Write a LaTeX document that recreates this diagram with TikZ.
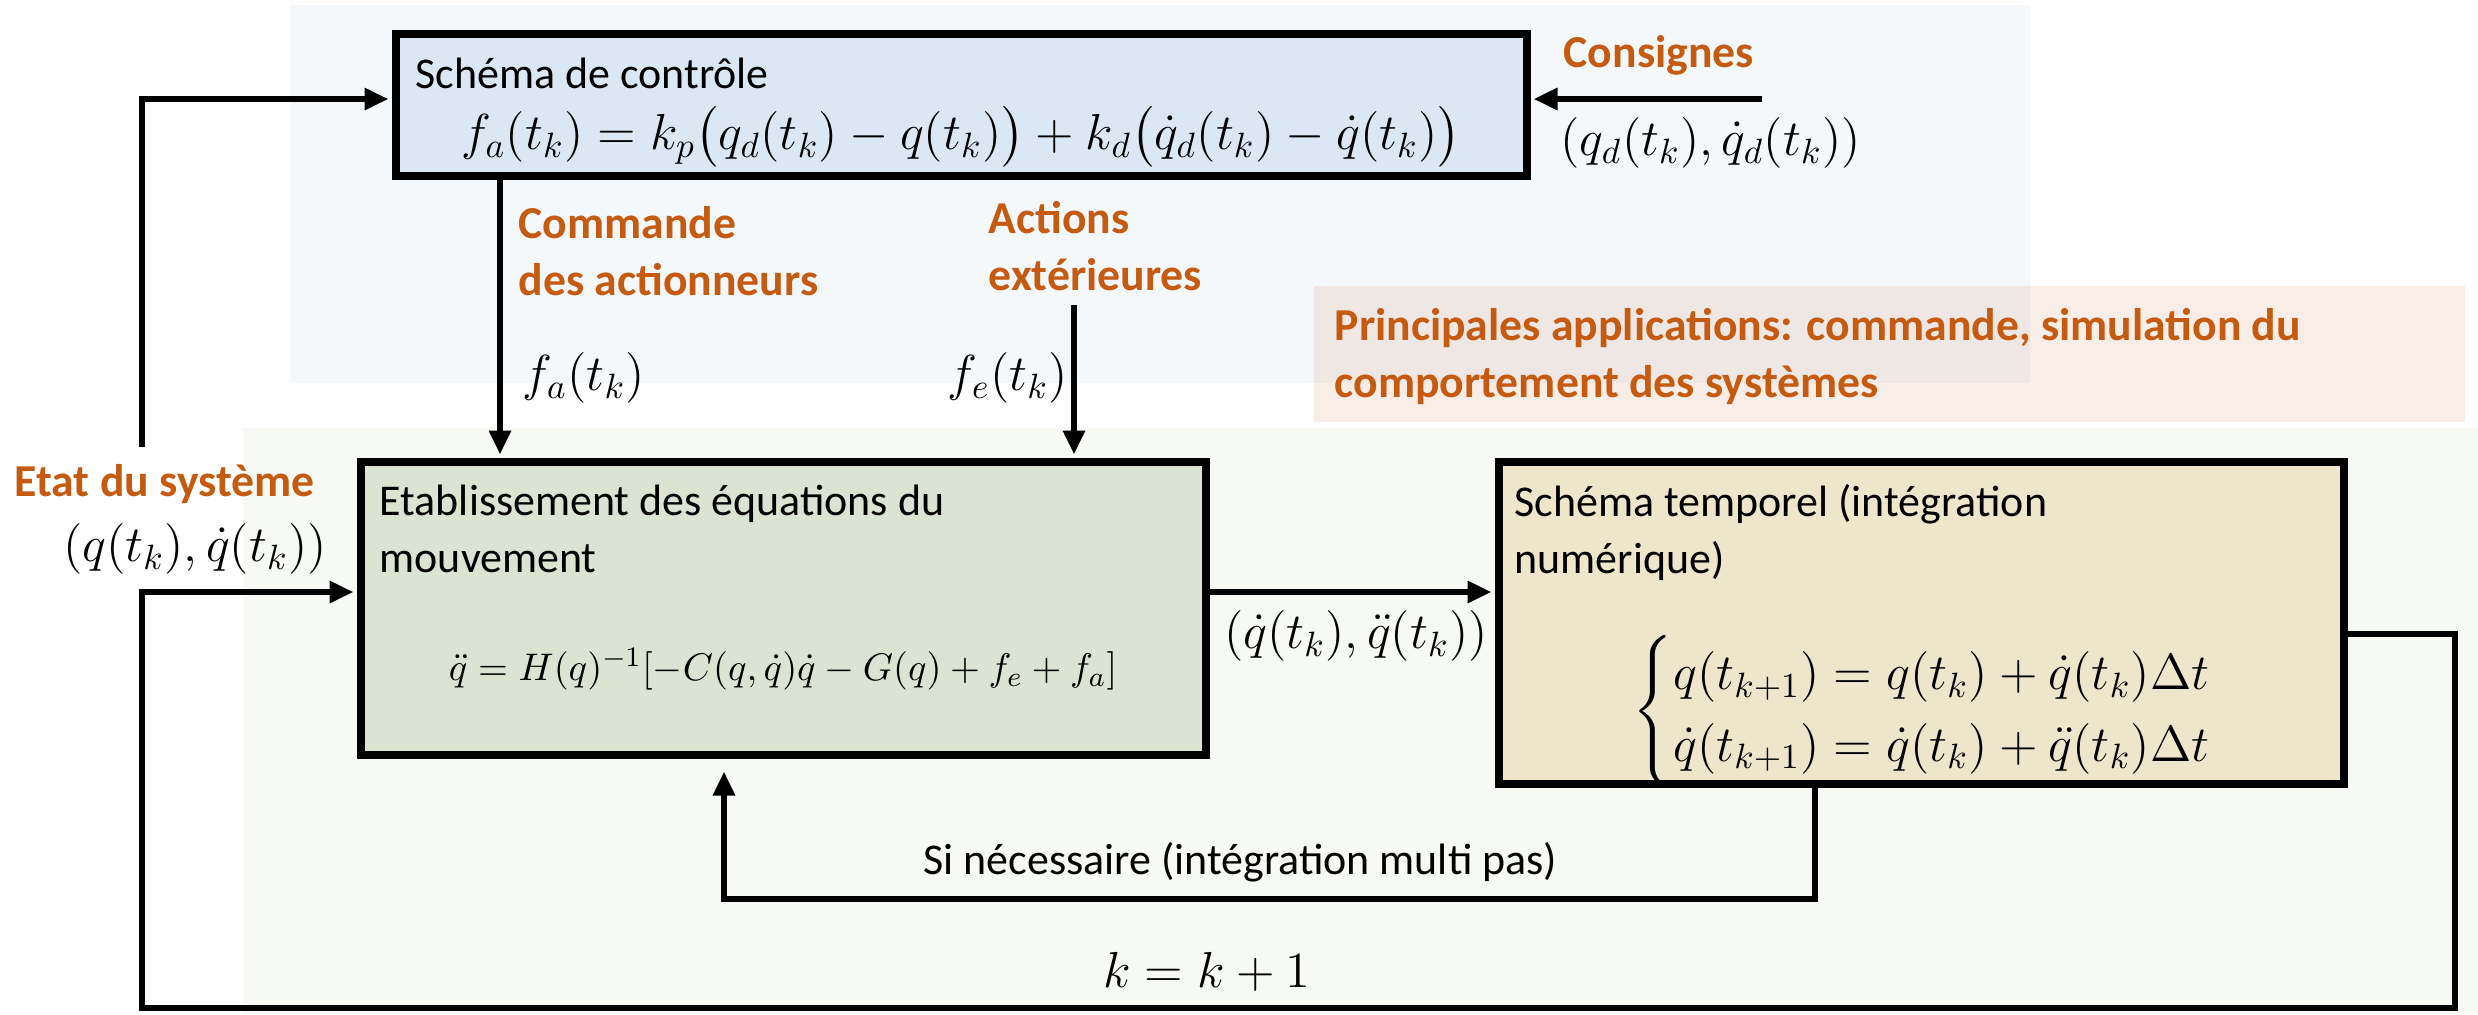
\documentclass[tikz,border=0pt]{standalone}
\usepackage{amsmath}
\usepackage{fontspec}
\setmainfont{Carlito}
\usetikzlibrary{arrows.meta,positioning,calc}
\definecolor{rust}{RGB}{197,90,17}
\definecolor{skyfill}{RGB}{219,232,244}
\definecolor{sagefill}{RGB}{219,228,211}
\definecolor{sandfill}{RGB}{237,230,203}
\definecolor{skyzone}{RGB}{244,248,251}
\definecolor{sagezone}{RGB}{247,249,245}
\tikzset{
  >={Triangle[length=2.4mm,width=2.1mm]},
  block/.style={draw=black,fill=#1,line width=0.8mm,inner sep=0pt},
  block/.default=skyfill,
  flow/.style={->,line width=0.6mm,shorten >=0.3mm},
  tag/.style={font=\fontsize{13}{5.7mm}\selectfont\bfseries,text=rust,align=left,inner sep=0pt},
  txt/.style={font=\fontsize{12.5}{5.7mm}\selectfont,align=left,inner sep=0pt},
  eq/.style={font=\fontsize{14.3}{17}\selectfont,inner sep=0pt},
}

\begin{document}
\begin{tikzpicture}[x=0.1mm,y=-0.1mm]
  \useasboundingbox (0,0) rectangle (2478,1014);
  % zones
  \fill[skyzone] (291,5) rectangle (2030,383);
  \fill[sagezone] (243,428) rectangle (2478,1014);
  \fill[rust,opacity=0.1] (1314,286) rectangle (2465,422);

  % blocks
  \node[block=skyfill,minimum width=113.1mm,minimum height=14.2mm] (ctrl) at (961,104.5) {};
  \node[block=sagefill,minimum width=84.5mm,minimum height=29.3mm] (eqs) at (783,608) {};
  \node[block=sandfill,minimum width=84.5mm,minimum height=32.2mm] (integ) at (1921,622.5) {};

  \node[txt,anchor=north west] (ctrlT) at (415,57) {Schéma de contrôle};
  \node[eq] (ctrlE) at (961,137) {$f_a(t_k) = k_p\bigl(q_d(t_k) - q(t_k)\bigr) + k_d\bigl(\dot q_d(t_k) - \dot q(t_k)\bigr)$};
  \node[txt,anchor=north west] (eqsT) at (379,484) {Etablissement des équations du\\mouvement};
  \node[eq,font=\fontsize{11}{13}\selectfont] (eqsE) at (783,669) {$\ddot q = H(q)^{-1}[-C(q,\dot q)\dot q - G(q) + f_e + f_a]$};
  \node[txt,anchor=north west] (integT) at (1514,484) {Schéma temporel (intégration\\numérique)};
  \node[eq,anchor=west] (integE) at (1632,711) {$\begin{cases} q(t_{k+1}) = q(t_k) + \dot q(t_k)\Delta t\\ \dot q(t_{k+1}) = \dot q(t_k) + \ddot q(t_k)\Delta t\end{cases}$};

  % labels
  \node[tag,anchor=north west] (cons) at (1563,35) {Consignes};
  \node[eq,anchor=west] (consE) at (1560,143) {$(q_d(t_k), \dot q_d(t_k))$};
  \node[tag,anchor=north west] (cmd) at (518,206) {Commande\\des actionneurs};
  \node[tag,anchor=north west] (acts) at (988,201) {Actions\\extérieures};
  \node[eq,anchor=west] (faE) at (522,378) {$f_a(t_k)$};
  \node[eq,anchor=west] (feE) at (947,378) {$f_e(t_k)$};
  \node[tag,anchor=north west] (apps) at (1334,308) {Principales applications: commande, simulation du\\comportement des systèmes};
  \node[tag,anchor=north west] (state) at (14,464) {Etat du système};
  \node[eq] (stateE) at (195,549) {$(q(t_k), \dot q(t_k))$};
  \node[eq] (derE) at (1356,636) {$(\dot q(t_k), \ddot q(t_k))$};
  \node[txt,anchor=north west] (multiT) at (923,842) {Si nécessaire (intégration multi pas)};
  \node[eq] (stepE) at (1207,972) {$k = k + 1$};

  % connectors
  \coordinate (consIn) at (1762,99);
  \coordinate (fbTop) at (142,447);
  \coordinate (fbIn) at (142,99);
  \coordinate (outR) at (2455,634);
  \coordinate (loopR) at (2455,1008);
  \coordinate (loopL) at (142,1008);
  \coordinate (stIn) at (142,592);
  \coordinate (cmdX) at (500,0);
  \coordinate (extIn) at (1074,305);
  \coordinate (backR) at (1815,899);
  \coordinate (backL) at (724,899);
  \draw[flow] (consIn) -- (consIn -| ctrl.east);
  \draw[flow] (fbTop) -- (fbIn) -- (fbIn -| ctrl.west);
  \draw[flow] (cmdX |- ctrl.south) -- (cmdX |- eqs.north);
  \draw[flow] (extIn) -- (extIn |- eqs.north);
  \draw[flow] (stIn -| eqs.east) -- (stIn -| integ.west);
  \draw[flow] (outR -| integ.east) -- (outR) -- (loopR) -- (loopL) -- (stIn) -- (stIn -| eqs.west);
  \draw[flow,shorten >=1.3mm] (backR |- integ.south) -- (backR) -- (backL) -- (backL |- eqs.south);
\end{tikzpicture}
\end{document}
